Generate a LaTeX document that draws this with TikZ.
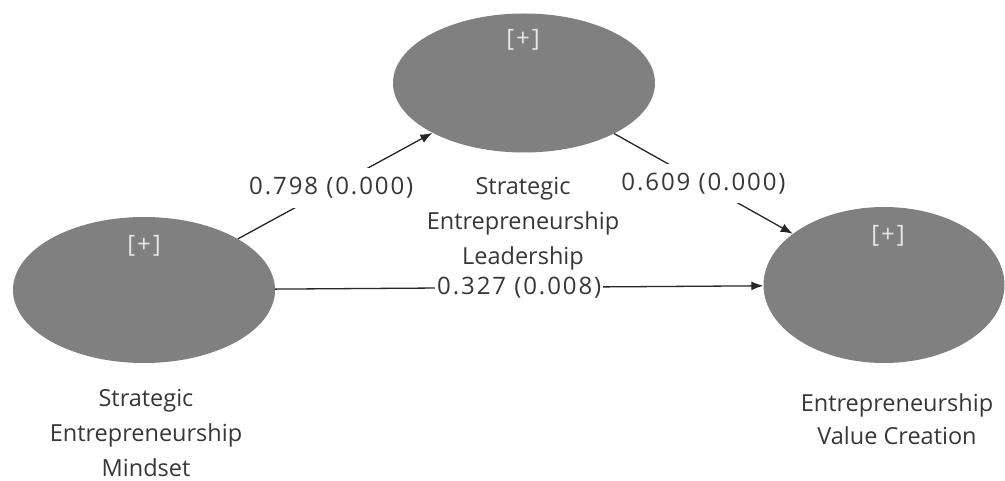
\documentclass[tikz,border=0pt]{standalone}
\usepackage{fontspec}
\setmainfont{Open Sans}
\newfontfamily\numfont[LetterSpace=8]{Open Sans}
\usetikzlibrary{shapes.geometric,arrows.meta}
\definecolor{lvgray}{RGB}{128,128,128}
\definecolor{txtgray}{RGB}{55,55,55}
\definecolor{plusgray}{RGB}{230,230,230}
\tikzset{
  lv/.style={ellipse,fill=lvgray,draw=none,inner sep=0pt},
  lvname/.style={align=center,text=txtgray,font=\fontsize{23.5}{35}\selectfont},
  plus/.style={text=plusgray,font=\numfont\fontsize{24}{28}\selectfont},
  coef/.style={fill=white,text=txtgray,inner xsep=2pt,inner ysep=9pt,font=\numfont\fontsize{24}{28}\selectfont},
  link/.style={draw=black!85,line width=1.3pt,-{Latex[length=12pt,width=9pt]}}
}
\begin{document}
\begin{tikzpicture}[x=1pt,y=-1pt]
\useasboundingbox (0,0) rectangle (1005,481);
\node[lv,minimum width=262pt,minimum height=146pt] (m) at (144,290) {};
\node[lv,minimum width=262pt,minimum height=139pt] (l) at (524,83) {};
\node[lv,minimum width=241pt,minimum height=156pt] (v) at (884,285) {};
\node[plus] (mp) at (144,246) {[+]};
\node[plus] (lp) at (523,40) {[+]};
\node[plus] (vp) at (888,236) {[+]};
\draw[link] (m) -- node[coef,pos=.48] (ml) {0.798 (0.000)} (l);
\draw[link] (l) -- node[coef] (lv) {0.609 (0.000)} (v);
\draw[link] (m) -- node[coef] (mv) {0.327 (0.008)} (v);
\node[lvname] (mt) at (146,433) {Strategic\\Entrepreneurship\\Mindset};
\node[lvname] (lt) at (523,224) {Strategic\\Entrepreneurship\\Leadership};
\node[lvname,font=\fontsize{23.5}{33}\selectfont] (vt) at (897,419) {Entrepreneurship\\Value Creation};
\end{tikzpicture}
\end{document}
